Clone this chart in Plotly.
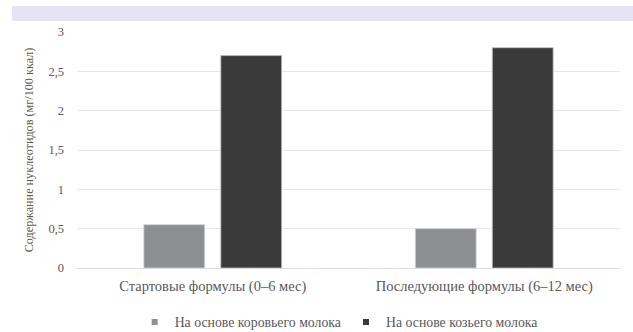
import plotly.graph_objects as go

categories = ["Стартовые формулы (0–6 мес)", "Последующие формулы (6–12 мес)"]
cow = [0.55, 0.5]
goat = [2.7, 2.8]
series_names = ["На основе коровьего молока", "На основе козьего молока"]
colors = ["#8e8f92", "#3a3a3a"]
y_title = "Содержание нуклеотидов (мг/100 ккал)"
tick_vals = [0, 0.5, 1, 1.5, 2, 2.5, 3]

FONT = "Liberation Serif"

fig = go.Figure()
for vals, name, col, edge in [(cow, series_names[0], colors[0], "#d0d0d0"),
                              (goat, series_names[1], colors[1], "#bdbdbd")]:
    fig.add_trace(go.Bar(x=categories, y=vals, name=name, showlegend=False,
                         marker=dict(color=col, line=dict(color=edge, width=0.8))))
# legend entries with small square symbols
for name, col in zip(series_names, colors):
    fig.add_trace(go.Scatter(x=[None], y=[None], mode="markers", name=name,
                             marker=dict(symbol="square", size=6, color=col)))

fig.update_layout(
    width=633, height=332,
    margin=dict(l=77, r=13, t=32, b=64, autoexpand=False),
    paper_bgcolor="white", plot_bgcolor="white",
    barmode="group", bargap=0.433, bargroupgap=0.21,
    separators=", ",
    font=dict(family=FONT, color="#595959", size=12),
    showlegend=True,
    legend=dict(orientation="h", xref="container", yref="container",
                x=0.535, xanchor="center", y=1 - 322 / 332, yanchor="middle",
                font=dict(size=13.8, color="#595959"), itemwidth=30,
                traceorder="normal", bgcolor="rgba(0,0,0,0)"),
    shapes=[dict(type="rect", xref="paper", yref="paper", x0=(12 - 77) / 543, x1=1.03,
                 y0=(332 - 64 - 21) / 236, y1=(332 - 64 - 6) / 236,
                 fillcolor="#e6e4f3", line=dict(width=0), layer="below")],
)
fig.update_xaxes(showgrid=False, showline=False, tickfont=dict(size=14.5, color="#595959"),
                 ticks="", ticklabelstandoff=7, automargin=False)
fig.update_yaxes(range=[0, 3], tickvals=tick_vals, showgrid=True, gridcolor="#e6e6e6",
                 zeroline=True, zerolinecolor="#dcdcdc", zerolinewidth=1, automargin=False,
                 tickfont=dict(size=12.5, color="#595959"), ticklabelstandoff=12,
                 title=dict(text=y_title, font=dict(size=12.2, color="#595959"), standoff=12))

fig.write_html("out.html")
